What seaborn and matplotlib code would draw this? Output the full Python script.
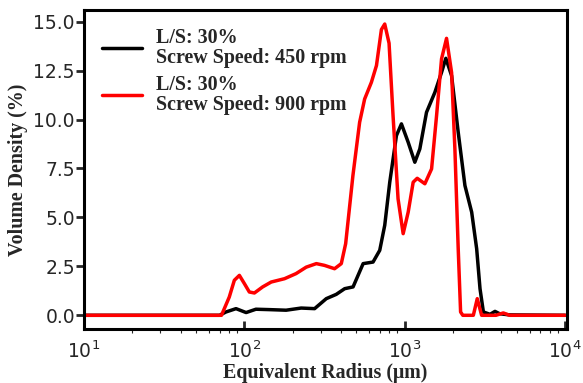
import matplotlib
matplotlib.use("Agg")
import matplotlib.pyplot as plt
import seaborn as sns
import pandas as pd
import numpy as np
from matplotlib.ticker import LogLocator, NullFormatter

# Data
x_450 = [10, 70, 76.8, 88.7, 102.5, 118, 143, 182, 226, 274, 324, 374, 422, 476, 550,
         634, 698, 750, 806, 887, 953, 1050, 1155, 1241, 1366, 1540, 1695, 1803,
         1958, 2153, 2371, 2612, 2806, 2944, 3090, 3400, 3651, 3900, 4500, 10000]
y_450 = [0, 0, 0.17, 0.34, 0.14, 0.31, 0.29, 0.26, 0.37, 0.34, 0.85, 1.07, 1.36, 1.45, 2.64,
         2.72, 3.32, 4.6, 6.8, 9.18, 9.78, 8.84, 7.82, 8.5, 10.37, 11.39, 12.41, 13.13,
         12.24, 9.35, 6.63, 5.27, 3.4, 1.36, 0.17, 0.05, 0.2, 0.08, 0.02, 0]

x_900 = [10, 72, 80.5, 86.6, 93.1, 100, 107.4, 115.5, 130, 147, 178, 210, 243, 281, 316,
         365, 402, 428, 475, 523, 562, 619, 666, 715, 750, 798, 845, 908, 977, 1050,
         1128, 1195, 1334, 1469, 1578, 1695, 1821, 1958, 2053, 2153, 2228, 2300, 2675,
         2830, 3013, 3700, 4112, 4500, 10000]
y_900 = [0, 0, 0.93, 1.79, 2.04, 1.62, 1.19, 1.14, 1.45, 1.7, 1.87, 2.13, 2.46, 2.64, 2.55,
         2.38, 2.64, 3.66, 7.14, 9.86, 11.05, 11.9, 12.76, 14.6, 14.88, 13.9, 10.2, 5.95, 4.17, 5.27,
         6.8, 7.0, 6.72, 7.48, 10.2, 13.1, 14.15, 12.4, 8.5, 3.4, 0.17, 0, 0,
         0.85, 0, 0, 0.12, 0, 0]

labels = ["L/S: 30%\nScrew Speed: 450 rpm", "L/S: 30%\nScrew Speed: 900 rpm"]
colors = ["black", "red"]

df = pd.concat([
    pd.DataFrame({"x": x_450, "y": y_450, "series": labels[0]}),
    pd.DataFrame({"x": x_900, "y": y_900, "series": labels[1]}),
])

sns.set_style("white")
plt.rcParams['font.family'] = ['DejaVu Sans']

fig = plt.figure(figsize=(5.83, 3.83), dpi=100)
ax = fig.add_axes([0.144, 0.141, 0.829, 0.833])

sns.lineplot(data=df, x="x", y="y", hue="series", palette=colors, ax=ax,
             linewidth=2.5, sort=False, estimator=None)

ax.set_xscale("log")
ax.set_xlim(10, 10300)
ax.set_ylim(-0.7, 15.6)
ax.set_yticks([0, 2.5, 5, 7.5, 10, 12.5, 15])
ax.set_yticklabels(["0.0", "2.5", "5.0", "7.5", "10.0", "12.5", "15.0"])
ax.xaxis.set_major_locator(LogLocator(base=10, numticks=10))
ax.xaxis.set_minor_locator(LogLocator(base=10, subs=np.arange(2, 10), numticks=20))
ax.xaxis.set_minor_formatter(NullFormatter())

for s in ax.spines.values():
    s.set_linewidth(2.2)
    s.set_color("black")

ax.tick_params(axis="x", which="major", direction="in", length=6, width=2,
               labelsize=13.5, pad=8, bottom=True, top=False)
ax.tick_params(axis="x", which="minor", direction="out", length=3, width=0.8,
               bottom=True, top=False)
ax.tick_params(axis="y", which="major", direction="out", length=6, width=2,
               labelsize=13.5, pad=0.5, left=True, right=False)

serif = ['Liberation Serif', 'DejaVu Serif']
ax.set_xlabel("Equivalent Radius (\u03bcm)", fontsize=14.4, fontweight="bold",
              family=serif, labelpad=1)
ax.set_ylabel("Volume Density (%)", fontsize=14.4, fontweight="bold",
              family=serif, labelpad=4)

leg = ax.legend(loc="upper left", frameon=False, handlelength=2.0,
                prop={'family': serif, 'weight': 'bold', 'size': 14.4},
                bbox_to_anchor=(0.0, 1.0), labelspacing=0.35, borderaxespad=0.5,
                handletextpad=0.7)
for t in leg.get_texts():
    t.set_linespacing(1.0)
for line in leg.get_lines():
    line.set_linewidth(2.5)

fig.savefig("out.png", dpi=100)
